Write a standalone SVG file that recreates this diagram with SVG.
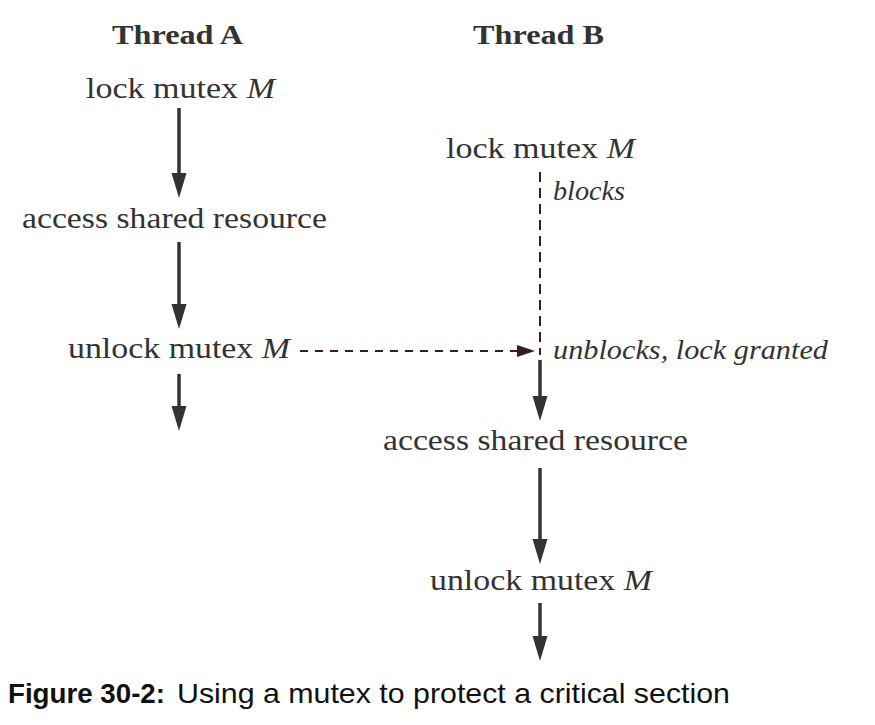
<svg xmlns="http://www.w3.org/2000/svg" width="875" height="725" viewBox="0 0 875 725">
<style>
.t{font-family:"Liberation Serif","Times New Roman",serif;font-size:29px;fill:#333}
.h{font-family:"Liberation Serif","Times New Roman",serif;font-size:27px;font-weight:bold;fill:#333}
.i{font-family:"Liberation Serif","Times New Roman",serif;font-size:27px;font-style:italic;fill:#333}
.a{stroke:#333;stroke-width:3.5;fill:none}
.d{stroke:#3a1e1e;stroke-width:2;fill:none}
.cap{font-family:"Liberation Sans",Arial,sans-serif;font-size:28px;fill:#111}
</style>
<g id="headings">
<text class="h" x="112" y="44" textLength="131" lengthAdjust="spacingAndGlyphs">Thread A</text>
<text class="h" x="473" y="44" textLength="131" lengthAdjust="spacingAndGlyphs">Thread B</text>
</g>
<g id="a-lock"><text class="t" x="86" y="98" textLength="189" lengthAdjust="spacingAndGlyphs">lock mutex <tspan font-style="italic">M</tspan></text></g>
<g id="a-access"><text class="t" x="22" y="228" textLength="305" lengthAdjust="spacingAndGlyphs">access shared resource</text></g>
<g id="a-unlock"><text class="t" x="68" y="358" textLength="222" lengthAdjust="spacingAndGlyphs">unlock mutex <tspan font-style="italic">M</tspan></text></g>
<g id="b-lock"><text class="t" x="446" y="158" textLength="189" lengthAdjust="spacingAndGlyphs">lock mutex <tspan font-style="italic">M</tspan></text></g>
<g id="b-blocks"><text class="i" x="553" y="200" textLength="72" lengthAdjust="spacingAndGlyphs">blocks</text></g>
<g id="b-unblocks"><text class="i" x="553" y="359" textLength="275" lengthAdjust="spacingAndGlyphs">unblocks, lock granted</text></g>
<g id="b-access"><text class="t" x="383" y="450" textLength="305" lengthAdjust="spacingAndGlyphs">access shared resource</text></g>
<g id="b-unlock"><text class="t" x="430" y="590" textLength="222" lengthAdjust="spacingAndGlyphs">unlock mutex <tspan font-style="italic">M</tspan></text></g>
<g id="connectors">
<line class="a" x1="179" y1="108" x2="179" y2="173"/>
<path d="M171.5,173 L186.5,173 L179,198 Z" fill="#333"/>
<line class="a" x1="179" y1="242" x2="179" y2="304"/>
<path d="M171.5,304 L186.5,304 L179,329 Z" fill="#333"/>
<line class="a" x1="179" y1="374" x2="179" y2="406"/>
<path d="M171.5,406 L186.5,406 L179,431 Z" fill="#333"/>
<line class="d" x1="540" y1="172" x2="540" y2="355" stroke-width="2.5" stroke-dasharray="10,6"/>
<line class="d" x1="300" y1="351" x2="518" y2="351" stroke-dasharray="8,7"/>
<path d="M517,345 L535,351 L517,357 Z" fill="#3a1e1e"/>
<line class="a" x1="540" y1="360" x2="540" y2="396"/>
<path d="M532.5,396 L547.5,396 L540,421 Z" fill="#333"/>
<line class="a" x1="540" y1="468" x2="540" y2="539"/>
<path d="M532.5,539 L547.5,539 L540,564 Z" fill="#333"/>
<line class="a" x1="540" y1="603" x2="540" y2="636"/>
<path d="M532.5,636 L547.5,636 L540,661 Z" fill="#333"/>
</g>
<g id="caption">
<text class="cap" x="8" y="703" font-weight="bold" textLength="157" lengthAdjust="spacingAndGlyphs">Figure 30-2:</text>
<text class="cap" x="177" y="703" textLength="553" lengthAdjust="spacingAndGlyphs">Using a mutex to protect a critical section</text>
</g>
</svg>
